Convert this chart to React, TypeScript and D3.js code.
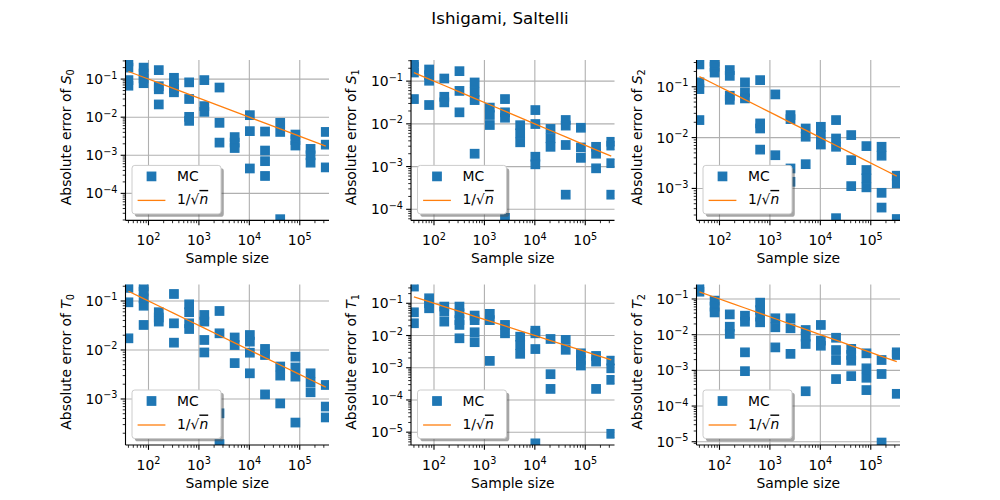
import React from 'react';
import * as d3 from 'd3';

const TITLE = 'Ishigami, Saltelli';
const SAMPLE_SIZES = [40, 80, 160, 320, 640, 1280, 2560, 5120, 10240, 20480, 40960, 81920, 163840, 327680];
// reference 1/sqrt(n) evaluated at the sample sizes
const REFERENCE = [0.15811, 0.1118, 0.079057, 0.055902, 0.039528, 0.027951, 0.019764, 0.013975, 0.0098821, 0.0069877, 0.0049411, 0.0034939, 0.0024705, 0.0017469];
const X_DOMAIN = [35, 380000];
const X_LABEL = 'Sample size';
const LEGEND_LABELS = ['MC', '1/√n'];

const S0_ERRORS = [
  [0.29, 0.2, 0.094, 0.067], [0.2, 0.14, 0.104, 0.078], [0.172, 0.065, 0.054, 0.0216], [0.108, 0.077, 0.057, 0.045],
  [0.082, 0.03, 0.0102, 0.008], [0.094, 0.0195, 0.0138], [0.06, 0.0071, 0.00215], [0.003, 0.00215, 0.00155],
  [0.0113, 0.0043, 0.00045], [0.0042, 0.00133, 0.0007, 0.000286], [0.0071, 0.0041, 0.000021], [0.0035, 0.0025, 0.0018],
  [0.00147, 0.001, 0.00064], [0.0041, 0.0019, 0.00048],
];
const S1_ERRORS = [
  [0.28, 0.216, 0.159, 0.038], [0.187, 0.138, 0.102, 0.0276], [0.115, 0.043, 0.0318], [0.171, 0.059, 0.0186],
  [0.093, 0.056, 0.036, 0.002], [0.024, 0.0161, 0.0094], [0.038, 0.0186, 0.0139, 0.000063], [0.0093, 0.006, 0.0037],
  [0.021, 0.0099, 0.0017, 0.00113], [0.0076, 0.0046, 0.0029], [0.0123, 0.0091, 0.0032, 0.00022], [0.0081, 0.0028, 0.0016],
  [0.0029, 0.002, 0.00091], [0.0038, 0.0031, 0.0012, 0.00022],
];
const S2_ERRORS = [
  [0.275, 0.122, 0.09, 0.0221], [0.31, 0.247, 0.19], [0.213, 0.164, 0.0665, 0.0554], [0.122, 0.0776, 0.059],
  [0.135, 0.019, 0.0151, 0.0058], [0.0707, 0.0045], [0.0277, 0.0231, 0.00247, 0.00135], [0.0151, 0.0104, 0.003],
  [0.0163, 0.0112, 0.0073], [0.0221, 0.0096, 0.0066, 0.00026], [0.0112, 0.0036, 0.00111], [0.0068, 0.0023, 0.00158, 0.00105],
  [0.0066, 0.0044, 0.00082, 0.00042], [0.00178, 0.00126, 0.00025],
];
const T0_ERRORS = [
  [0.185, 0.094, 0.0173], [0.2, 0.155, 0.113, 0.08, 0.0324], [0.059, 0.046, 0.038], [0.139, 0.035, 0.0141],
  [0.0855, 0.059, 0.035, 0.0268], [0.0518, 0.038, 0.016, 0.0089], [0.0625, 0.0219, 0.00051, 0.00012], [0.018, 0.0126, 0.0054],
  [0.0202, 0.0148, 0.0088, 0.00334], [0.0105, 0.0079, 0.00124], [0.0046, 0.003, 0.00081], [0.0073, 0.0044, 0.00286, 0.00033],
  [0.00334, 0.00219, 0.00137], [0.00193, 0.0007, 0.00042],
];
const T1_ERRORS = [
  [0.33, 0.0525, 0.024], [0.143, 0.1, 0.07], [0.079, 0.055, 0.027], [0.079, 0.049, 0.03, 0.0213, 0.0082],
  [0.0416, 0.03, 0.0126, 0.0062], [0.047, 0.03, 0.00163], [0.0213, 0.0117], [0.0092, 0.0051, 0.0027],
  [0.0141, 0.0117, 0.0038, 0.0000045], [0.0078, 0.00063, 0.00022], [0.0073, 0.0036], [0.0028, 0.00175, 0.00117],
  [0.00232, 0.00155, 0.00022], [0.00166, 0.00096, 0.00042, 0.0000089],
];
const T2_ERRORS = [
  [0.22, 0.16], [0.09, 0.061, 0.042], [0.037, 0.0167, 0.0105], [0.034, 0.0231, 0.0032, 0.00095],
  [0.079, 0.049, 0.032, 0.0222], [0.0288, 0.0161, 0.0044], [0.0288, 0.0151, 0.0029], [0.0135, 0.0088, 0.0055, 0.00026],
  [0.0187, 0.0068, 0.0049], [0.0082, 0.0037, 0.00195, 0.00057], [0.004, 0.0027, 0.00187, 0.00069], [0.003, 0.00114, 0.00062, 0.00028],
  [0.00195, 0.00079, 0.0000095], [0.0032, 0.0027, 0.00022],
];

const PANEL_DATA = [S0_ERRORS, S1_ERRORS, S2_ERRORS, T0_ERRORS, T1_ERRORS, T2_ERRORS];
const PANEL_SYMBOLS = ['S', 'S', 'S', 'T', 'T', 'T'];
const PANEL_SUBSCRIPTS = ['0', '1', '2', '0', '1', '2'];
const PANEL_Y_DOMAINS = [
  [1.95e-5, 0.317], [5.5e-5, 0.312], [2.35e-4, 0.336],
  [1.15e-4, 0.216], [4.0e-6, 0.38], [8.1e-6, 0.253],
];

const BLUE = '#1f77b4';
const ORANGE = '#ff7f0e';
const FONT = 'DejaVu Sans';
const FS = 13.9;
const SUP = 9.7;

const COL_LEFT = [125.5, 411, 696.5];
const ROW_TOP = [60, 284.6];
const AX_W = 203.5;
const AX_H = 160.4;

function logTicks(domain: number[]) {
  const out: { v: number; major: boolean; e: number }[] = [];
  const e0 = Math.floor(Math.log10(domain[0]));
  const e1 = Math.ceil(Math.log10(domain[1]));
  for (let e = e0; e <= e1; e++) {
    for (let m = 1; m <= 9; m++) {
      const v = m * Math.pow(10, e);
      if (v >= domain[0] * 0.9999 && v <= domain[1] * 1.0001) out.push({ v, major: m === 1, e });
    }
  }
  return out;
}

function expText(e: number) {
  return e < 0 ? '\u2212' + String(-e) : String(e);
}

function Panel({ idx }: { idx: number }) {
  const col = idx % 3;
  const row = Math.floor(idx / 3);
  const x0 = COL_LEFT[col];
  const y0 = ROW_TOP[row];
  const x1 = x0 + AX_W;
  const y1 = y0 + AX_H;
  const xs = d3.scaleLog().domain(X_DOMAIN).range([x0, x1]);
  const ys = d3.scaleLog().domain(PANEL_Y_DOMAINS[idx]).range([y1, y0]);
  const data = PANEL_DATA[idx];
  const xt = logTicks(X_DOMAIN);
  const yt = logTicks(PANEL_Y_DOMAINS[idx]);
  const clipId = `clip-${idx}`;
  const line = d3.line<number>().x((_, i) => xs(SAMPLE_SIZES[i])).y((d) => ys(d));
  const ms = 8.33;
  const lx = x0 + 6.5;
  const lh = 48.5;
  const lw = 89;
  const ly = y1 - 6.5 - lh;
  return (
    <g>
      <defs>
        <clipPath id={clipId}>
          <rect x={x0} y={y0} width={AX_W} height={AX_H} />
        </clipPath>
      </defs>
      {/* grid */}
      {xt.filter((t) => t.major).map((t) => (
        <line key={'gx' + t.v} x1={xs(t.v)} x2={xs(t.v)} y1={y0} y2={y1} stroke="#b0b0b0" strokeWidth={1.1} />
      ))}
      {yt.filter((t) => t.major).map((t) => (
        <line key={'gy' + t.v} x1={x0} x2={x1} y1={ys(t.v)} y2={ys(t.v)} stroke="#b0b0b0" strokeWidth={1.1} />
      ))}
      <g clipPath={`url(#${clipId})`}>
        {data.map((vals, i) =>
          vals.map((v, j) => (
            <rect key={i + '-' + j} x={xs(SAMPLE_SIZES[i]) - ms / 2} y={ys(v) - ms / 2} width={ms} height={ms}
              fill={BLUE} stroke={BLUE} strokeWidth={1.39} />
          ))
        )}
        <path d={line(REFERENCE) || ''} fill="none" stroke={ORANGE} strokeWidth={1.3} />
      </g>
      {/* spines */}
      <line x1={x0} x2={x0} y1={y0} y2={y1} stroke="#000" strokeWidth={1.1} />
      <line x1={x0} x2={x1} y1={y1} y2={y1} stroke="#000" strokeWidth={1.1} />
      {/* ticks */}
      {xt.map((t) => (
        <line key={'tx' + t.v} x1={xs(t.v)} x2={xs(t.v)} y1={y1} y2={y1 + (t.major ? 4.86 : 2.78)} stroke="#000" strokeWidth={t.major ? 1.1 : 0.83} />
      ))}
      {yt.map((t) => (
        <line key={'ty' + t.v} x1={x0} x2={x0 - (t.major ? 4.86 : 2.78)} y1={ys(t.v)} y2={ys(t.v)} stroke="#000" strokeWidth={t.major ? 1.1 : 0.83} />
      ))}
      {xt.filter((t) => t.major).map((t) => (
        <text key={'lx' + t.v} x={xs(t.v)} y={y1 + 24.6} textAnchor="middle" fontSize={FS} fontFamily={FONT}>
          10<tspan fontSize={SUP} dy={-5.5}>{expText(t.e)}</tspan>
        </text>
      ))}
      {yt.filter((t) => t.major).map((t) => (
        <text key={'ly' + t.v} x={x0 - 8} y={ys(t.v) + 5} textAnchor="end" fontSize={FS} fontFamily={FONT}>
          10<tspan fontSize={SUP} dy={-5.5}>{expText(t.e)}</tspan>
        </text>
      ))}
      {/* axis labels */}
      <text x={(x0 + x1) / 2} y={y1 + 43} textAnchor="middle" fontSize={FS} fontFamily={FONT}>{X_LABEL}</text>
      <text transform={`translate(${x0 - 55},${(y0 + y1) / 2 - 3}) rotate(-90)`} textAnchor="middle" fontSize={FS} fontFamily={FONT}>
        Absolute error of <tspan fontStyle="italic">{PANEL_SYMBOLS[idx]}</tspan>
        <tspan fontSize={SUP} dy={3}>{PANEL_SUBSCRIPTS[idx]}</tspan>
      </text>
      {/* legend */}
      <rect x={lx + 2.78} y={ly + 2.78} width={lw} height={lh} rx={2.8} fill="#4d4d4d" opacity={0.5} />
      <rect x={lx} y={ly} width={lw} height={lh} rx={2.8} fill="#fff" stroke="#cccccc" strokeWidth={1} />
      <rect x={lx + 19.5 - ms / 2} y={ly + 11 - ms / 2} width={ms} height={ms} fill={BLUE} stroke={BLUE} strokeWidth={1.39} />
      <text x={lx + 45} y={ly + 15.7} fontSize={FS} fontFamily={FONT}>{LEGEND_LABELS[0]}</text>
      <line x1={lx + 5.6} x2={lx + 33.4} y1={ly + 35} y2={ly + 35} stroke={ORANGE} strokeWidth={1.3} />
      <text x={lx + 45} y={ly + 38.5} fontSize={FS} fontFamily={FONT}>
        {LEGEND_LABELS[1].slice(0, 3)}
        <tspan fontStyle="italic" textDecoration="overline">{LEGEND_LABELS[1].slice(3)}</tspan>
      </text>
    </g>
  );
}

export default function App() {
  return (
    <svg width={1000} height={500} style={{ position: 'absolute', left: 0, top: 0, background: '#fff' }}
      fontFamily={FONT}>
      <rect x={0} y={0} width={1000} height={500} fill="#fff" />
      <text x={500} y={24} textAnchor="middle" fontSize={16.7} fontFamily={FONT}>{TITLE}</text>
      {PANEL_DATA.map((_, i) => <Panel key={i} idx={i} />)}
    </svg>
  );
}
